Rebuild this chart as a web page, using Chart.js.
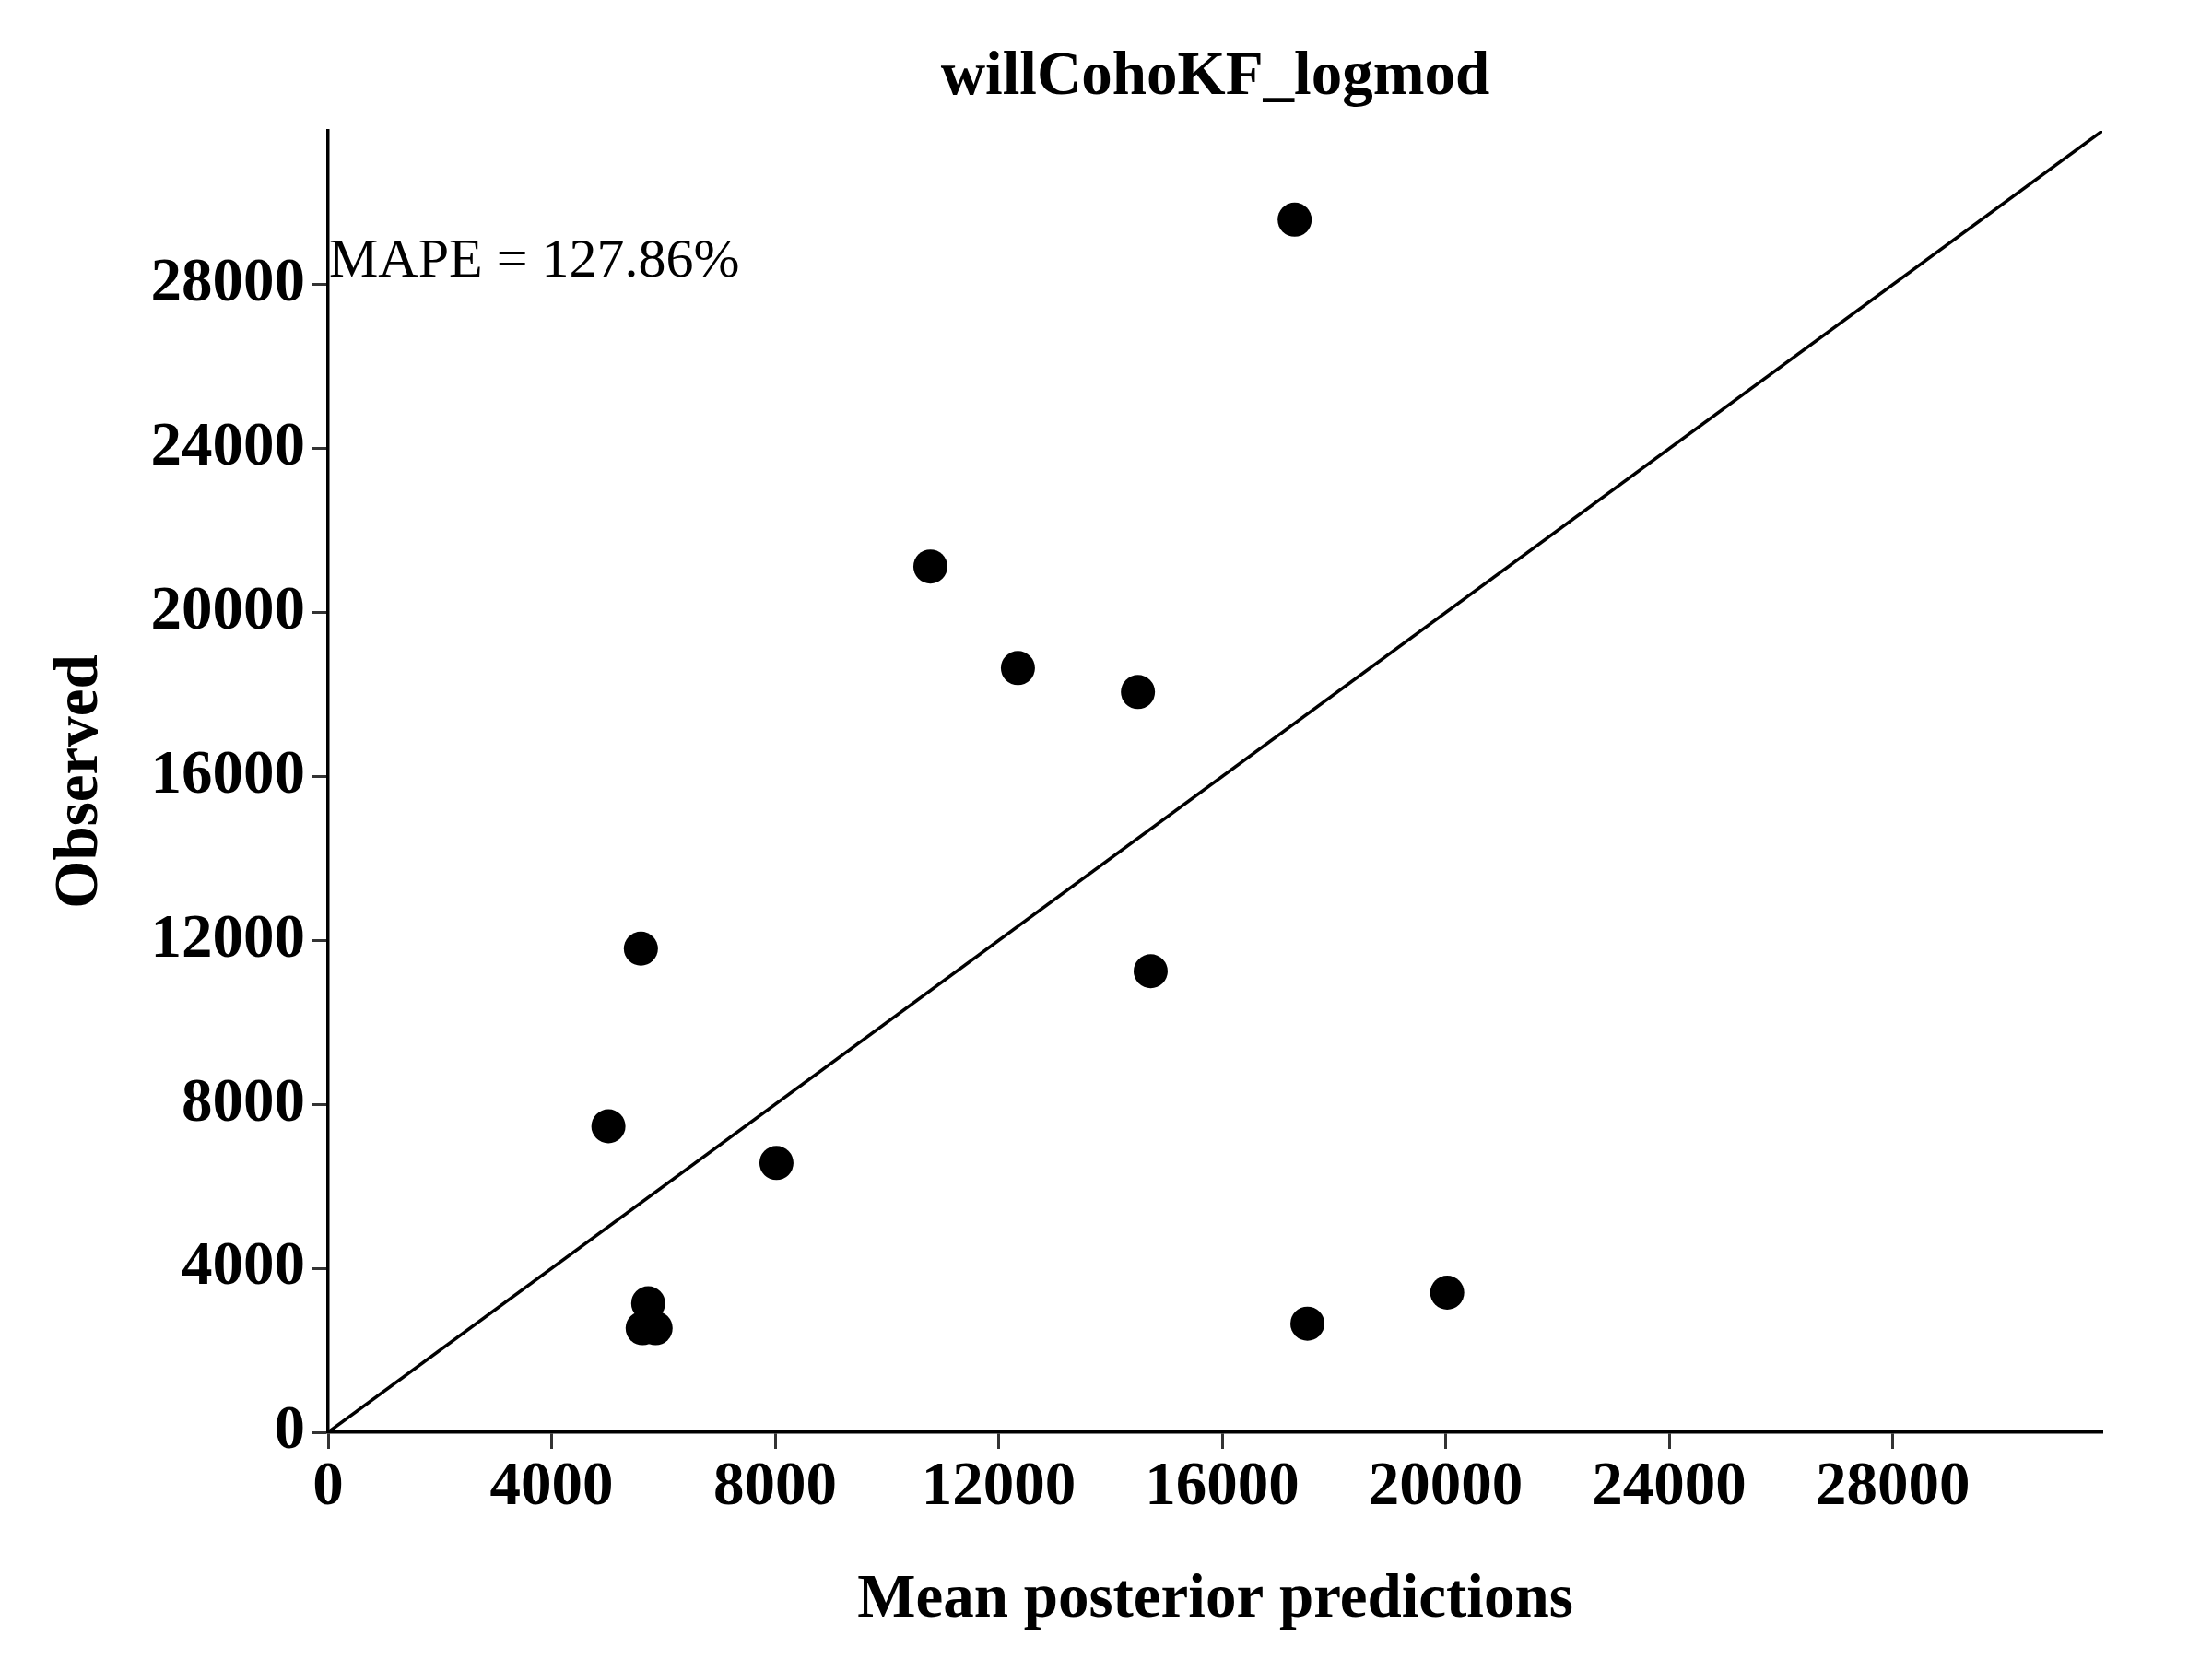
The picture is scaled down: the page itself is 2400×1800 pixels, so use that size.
<!DOCTYPE html>
<html>
<head>
<meta charset="utf-8">
<script src="https://cdn.jsdelivr.net/npm/chart.js@4/dist/chart.umd.min.js"></script>
<style>
  html, body { margin: 0; padding: 0; background: #ffffff; }
  #wrap { width: 2400px; height: 1800px; }
</style>
</head>
<body>
<div id="wrap"><canvas id="c" width="2400" height="1800"></canvas></div>
<script>
// ---- data ----
const chartTitle = "willCohoKF_logmod";
const xTitle = "Mean posterior predictions";
const yTitle = "Observed";
const mapeLabel = "MAPE = 127.86%";
const mapePos = [0, 28550];

const predicted = [17297, 10778, 12344, 14492, 5597, 14720, 5016, 8023, 5728, 5629, 5860, 17525, 20026];
const observed  = [29584, 21122, 18645, 18060, 11799, 11249, 7465, 6570, 3146, 2539, 2539, 2649, 3406];

const axisMax = 31750;
const xTicks = [0, 4000, 8000, 12000, 16000, 20000, 24000, 28000];
const yTicks = [0, 4000, 8000, 12000, 16000, 20000, 24000, 28000];
const identityLine = [0, axisMax];

// ---- chart ----
const FAMILY = '"Liberation Serif", "Times New Roman", serif';

const points = predicted.map((p, i) => ({ x: p, y: observed[i] }));
const linePts = identityLine.map(v => ({ x: v, y: v }));

const annotatePlugin = {
  id: 'mapeText',
  afterDatasetsDraw(chart) {
    const { ctx, scales } = chart;
    ctx.save();
    ctx.font = '60px ' + FAMILY;
    ctx.fillStyle = '#000';
    ctx.textAlign = 'left';
    ctx.textBaseline = 'middle';
    ctx.fillText(mapeLabel, scales.x.getPixelForValue(mapePos[0]) + 1, scales.y.getPixelForValue(mapePos[1]));
    ctx.restore();
  }
};

const axisCommon = {
  type: 'linear',
  min: 0,
  max: axisMax,
  border: { display: true, color: '#000000', width: 3.5 },
  grid: { display: true, drawOnChartArea: false, drawTicks: true, tickLength: 18, tickWidth: 3, tickColor: '#333333' },
};

new Chart(document.getElementById('c'), {
  data: {
    datasets: [
      {
        type: 'line',
        data: linePts,
        borderColor: '#000000',
        borderWidth: 3.5,
        pointRadius: 0,
        fill: false,
        order: 2
      },
      {
        type: 'scatter',
        data: points,
        backgroundColor: '#000000',
        borderWidth: 0,
        pointRadius: 18.5,
        pointHoverRadius: 18.5,
        order: 1
      }
    ]
  },
  options: {
    responsive: false,
    devicePixelRatio: 1,
    animation: false,
    events: [],
    layout: { padding: { left: 0, right: 119, top: 0, bottom: 0 } },
    plugins: {
      legend: { display: false },
      tooltip: { enabled: false },
      title: {
        display: true,
        text: chartTitle,
        fullSize: false,
        color: '#000000',
        font: { family: FAMILY, size: 67, weight: 'bold', lineHeight: 1.2 },
        padding: { top: 44, bottom: 17.6 }
      }
    },
    scales: {
      x: Object.assign({}, axisCommon, {
        position: 'bottom',
        afterBuildTicks(scale) { scale.ticks = xTicks.map(v => ({ value: v })); },
        afterFit(scale) { scale.height = 246; },
        ticks: {
          color: '#000000',
          padding: 2,
          maxRotation: 0,
          autoSkip: false,
          font: { family: FAMILY, size: 67, weight: 'bold' },
          callback: v => String(v)
        },
        title: {
          display: true,
          text: xTitle,
          color: '#000000',
          font: { family: FAMILY, size: 67, weight: 'bold', lineHeight: 1.2 },
          padding: { top: 0, bottom: 23 }
        }
      }),
      y: Object.assign({}, axisCommon, {
        position: 'left',
        afterBuildTicks(scale) { scale.ticks = yTicks.map(v => ({ value: v })); },
        afterFit(scale) { scale.width = 356; },
        ticks: {
          color: '#000000',
          padding: 7,
          autoSkip: false,
          font: { family: FAMILY, size: 67, weight: 'bold' },
          callback: v => String(v)
        },
        title: {
          display: true,
          text: yTitle,
          color: '#000000',
          font: { family: FAMILY, size: 67, weight: 'bold', lineHeight: 1.2 },
          padding: { top: 47, bottom: 0 }
        }
      })
    }
  },
  plugins: [annotatePlugin]
});
</script>
</body>
</html>
